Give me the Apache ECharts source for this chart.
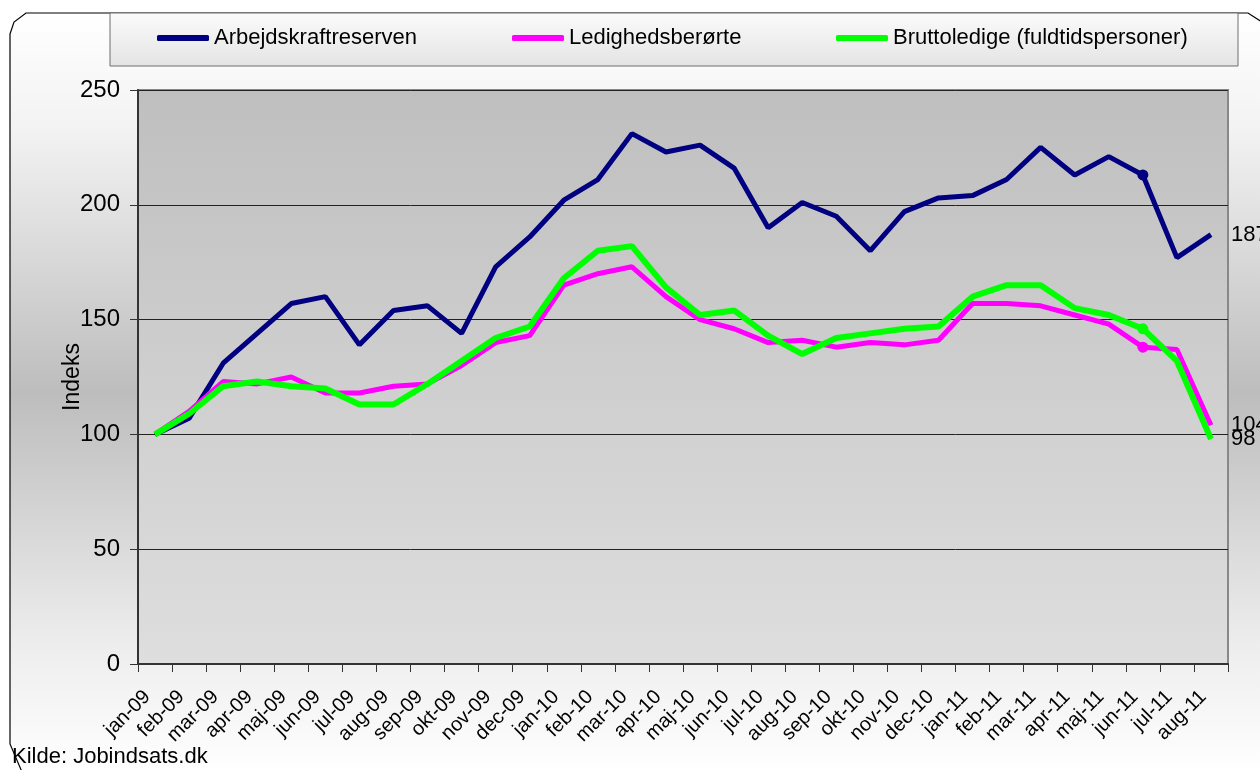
<!DOCTYPE html>
<html>
<head>
<meta charset="utf-8">
<script src="https://cdn.jsdelivr.net/npm/echarts@6/dist/echarts.min.js"></script>
<style>
  html, body { margin: 0; padding: 0; background: #fff; }
  #main { width: 1260px; height: 770px; }
</style>
</head>
<body>
<div id="main"></div>
<script>
// months on the x axis
const months = [
  "jan-09", "feb-09", "mar-09", "apr-09", "maj-09", "jun-09", "jul-09", "aug-09",
  "sep-09", "okt-09", "nov-09", "dec-09", "jan-10", "feb-10", "mar-10", "apr-10",
  "maj-10", "jun-10", "jul-10", "aug-10", "sep-10", "okt-10", "nov-10", "dec-10",
  "jan-11", "feb-11", "mar-11", "apr-11", "maj-11", "jun-11", "jul-11", "aug-11",
];

// index values (jan-09 = 100)
const arbejdskraft = [100, 107, 131, 144, 157, 160, 139, 154, 156, 144, 173, 186,
  202, 211, 231, 223, 226, 216, 190, 201, 195, 180, 197, 203,
  204, 211, 225, 213, 221, 213, 177, 187];
const ledighed = [100, 110, 123, 122, 125, 118, 118, 121, 122, 130, 140, 143,
  165, 170, 173, 160, 150, 146, 140, 141, 138, 140, 139, 141,
  157, 157, 156, 152, 148, 138, 137, 104];
const brutto = [100, 109, 121, 123, 121, 120, 113, 113, 122, 132, 142, 147,
  168, 180, 182, 164, 152, 154, 143, 135, 142, 144, 146, 147,
  160, 165, 165, 155, 152, 146, 132, 98];

const names = ["Arbejdskraftreserven", "Ledighedsberørte", "Bruttoledige (fuldtidspersoner)"];
const colors = ["#000080", "#ff00ff", "#00ff00"];
const markIndex = 29; // jun-11 has a dot on every line

const font = "Liberation Sans, Arial, sans-serif";

const chart = echarts.init(document.getElementById("main"));

function lineSeries(name, data, color, width) {
  return {
    name: name,
    type: "line",
    data: data,
    symbol: "circle",
    showAllSymbol: true,
    symbolSize: (v, p) => (p.dataIndex === markIndex ? 11 : 0),
    itemStyle: { color: color },
    lineStyle: { color: color, width: width },
    z: 3,
    endLabel: {
      show: true,
      distance: 20,
      formatter: (p) => Math.round(p.value),
      color: "#000",
      fontFamily: font,
      fontSize: 22,
    },
    emphasis: { disabled: true },
    animation: false,
  };
}

// three legends so each item sits where it does in the original
const legendLeft = [157, 512, 836];
const legends = names.map((n, i) => ({
  data: [n],
  left: legendLeft[i],
  top: 27,
  padding: 0,
  icon: "roundRect",
  itemWidth: 52,
  itemHeight: 6,
  itemGap: 0,
  selectedMode: false,
  textStyle: { color: "#000", fontFamily: font, fontSize: 22 },
}));

const option = {
  backgroundColor: "#fff",
  graphic: [
    {
      type: "polygon",
      z: -10,
      shape: {
        points: [[10, 34], [14, 22], [26, 13], [1248, 13], [1262, 22], [1262, 772], [22, 772], [10, 744]],
      },
      style: {
        fill: new echarts.graphic.LinearGradient(0, 0, 0, 1, [
          { offset: 0, color: "#ffffff" },
          { offset: 0.15, color: "#f3f3f3" },
          { offset: 0.5, color: "#bdbdbd" },
          { offset: 0.83, color: "#ededed" },
          { offset: 1, color: "#ffffff" },
        ]),
        stroke: "#000",
        lineWidth: 1.2,
      },
    },
    {
      type: "rect",
      z: 1,
      shape: { x: 110, y: 13, width: 1128, height: 53 },
      style: {
        fill: new echarts.graphic.LinearGradient(0, 0, 0, 1, [
          { offset: 0, color: "#fbfbfb" },
          { offset: 1, color: "#e4e4e4" },
        ]),
        stroke: "#6e6e6e",
        lineWidth: 1,
      },
    },
    {
      type: "text",
      z: 5,
      left: 12,
      top: 746,
      style: { text: "Kilde: Jobindsats.dk", fill: "#000", font: "22px " + font },
    },
  ],
  legend: legends,
  grid: {
    left: 138,
    right: 32,
    top: 90,
    bottom: 106,
    show: true,
    borderColor: "#888",
    borderWidth: 2,
    backgroundColor: new echarts.graphic.LinearGradient(0, 0, 0, 1, [
      { offset: 0, color: "#bfbfbf" },
      { offset: 1, color: "#dedede" },
    ]),
  },
  xAxis: {
    type: "category",
    data: months,
    boundaryGap: true,
    axisLine: { lineStyle: { color: "#333", width: 2 } },
    axisTick: { show: true, length: 8, lineStyle: { color: "#333" } },
    axisLabel: {
      interval: 0,
      rotate: 45,
      margin: 22,
      padding: [0, 11, 0, 0],
      color: "#000",
      fontFamily: font,
      fontSize: 20,
    },
  },
  yAxis: {
    type: "value",
    min: 0,
    max: 250,
    interval: 50,
    name: "Indeks",
    nameLocation: "middle",
    nameGap: 54,
    nameMoveOverlap: false,
    nameTextStyle: { color: "#000", fontFamily: font, fontSize: 23 },
    axisLine: { show: true, lineStyle: { color: "#333", width: 2 } },
    axisTick: { show: true, length: 8, lineStyle: { color: "#333" } },
    axisLabel: { color: "#000", fontFamily: font, fontSize: 24, margin: 18 },
    splitLine: { lineStyle: { color: "#222", width: 1 } },
  },
  series: [
    lineSeries(names[0], arbejdskraft, colors[0], 5),
    lineSeries(names[1], ledighed, colors[1], 5),
    lineSeries(names[2], brutto, colors[2], 6),
  ],
};

chart.setOption(option);
</script>
</body>
</html>
